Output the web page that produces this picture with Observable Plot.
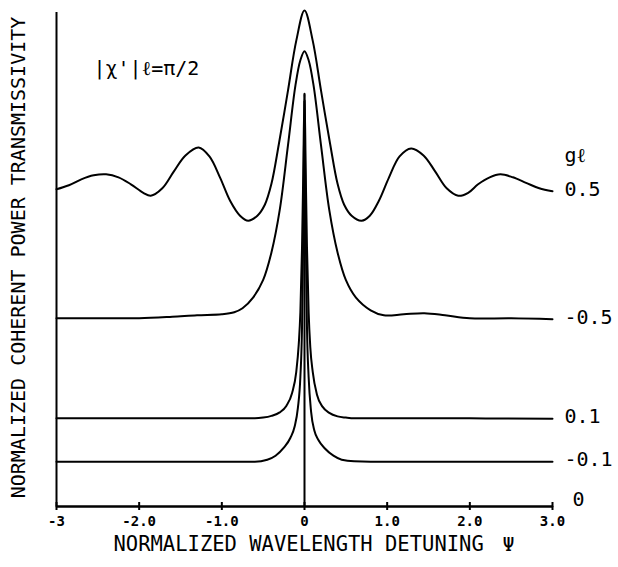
<!DOCTYPE html>
<html><head><meta charset="utf-8">
<script src="https://cdn.jsdelivr.net/npm/d3@7"></script>
<script src="https://cdn.jsdelivr.net/npm/@observablehq/plot@0.6"></script>
<style>body{margin:0;background:#fff}</style>
</head><body><div id="chart"></div><script>
// x-axis ticks
const xTicks = [-3, -2, -1, 0, 1, 2, 3];
const xTickLabels = ["-3", "-2.0", "-1.0", "0", "1.0", "2.0", "3.0"];

// gℓ = 0.5
const psiA = [-3.0,-2.85,-2.7,-2.55,-2.4,-2.25,-2.1,-1.95,-1.86,-1.72,-1.58,-1.44,-1.28,-1.15,-1.02,-0.9,-0.78,-0.68,-0.57,-0.48,-0.4,-0.31,-0.2,-0.1,0,
  0.1,0.2,0.31,0.4,0.48,0.57,0.69,0.79,0.9,1.02,1.15,1.29,1.44,1.58,1.72,1.86,1.98,2.1,2.24,2.37,2.52,2.68,2.84,3.0];
const tA = [63.7,64.5,65.7,66.5,66.7,66.1,64.7,63.0,62.4,63.9,67.3,70.5,72.1,70.3,66.0,61.4,58.4,57.4,58.4,60.6,64.8,72.8,83.5,93.5,99.6,
  93.5,83.5,72.8,64.8,60.6,58.4,57.4,58.4,61.4,66.0,70.3,71.9,70.5,67.3,63.9,62.4,63.0,64.7,66.1,66.7,66.1,65.0,63.9,63.3];

// gℓ = -0.5
const psiB = [-3.0,-2.5,-2.0,-1.6,-1.3,-1.0,-0.85,-0.75,-0.62,-0.5,-0.4,-0.3,-0.2,-0.11,-0.05,0,
  0.05,0.11,0.2,0.3,0.4,0.5,0.62,0.8,0.96,1.2,1.45,1.7,2.0,2.5,3.0];
const tB = [37.8,37.8,37.8,38.1,38.4,38.6,39.0,39.8,42.0,45.5,51.0,59.5,72.5,84.5,89.6,91.4,
  89.6,84.5,72.5,59.5,51.0,45.5,42.0,39.4,38.4,38.6,38.8,38.4,37.8,37.8,37.6];

// gℓ = 0.1
const psiC = [-3.0,-2.0,-1.0,-0.6,-0.5,-0.4,-0.3,-0.22,-0.15,-0.1,-0.07,-0.05,-0.03,-0.015,0,
  0.015,0.03,0.05,0.07,0.1,0.15,0.22,0.3,0.4,0.5,0.6,1.0,2.0,3.0];
const tC = [17.7,17.7,17.7,17.7,17.85,18.2,18.9,20.2,22.8,27.0,32.5,39.0,52.0,67.0,82.9,
  67.0,52.0,39.0,32.0,27.0,22.5,20.0,18.8,18.1,17.85,17.7,17.7,17.7,17.6];

// gℓ = -0.1
const psiD = [-3.0,-2.0,-1.0,-0.6,-0.45,-0.35,-0.25,-0.17,-0.12,-0.08,-0.05,-0.03,-0.015,0,
  0.015,0.03,0.05,0.08,0.12,0.17,0.25,0.35,0.45,0.6,1.0,2.0,3.0];
const tD = [9.0,9.0,9.0,9.0,9.4,10.2,11.8,13.8,16.0,19.8,26.0,36.0,55.0,81.5,
  55.0,36.0,26.0,19.0,15.2,13.3,11.6,10.2,9.4,9.1,9.0,9.0,9.0];

// gℓ = 0 (delta at ψ = 0)
const psiE = [-3.0, 0, 0, 0, 3.0];
const tE = [0, 0, 82.9, 0, 0];

const smooth = [
  {g: "0.5", psi: psiA, t: tA},
  {g: "-0.5", psi: psiB, t: tB}
];
const sharp = [
  {g: "0.1", psi: psiC, t: tC},
  {g: "-0.1", psi: psiD, t: tD}
];
const toRows = list => list.flatMap(s => s.psi.map((p, i) => ({g: s.g, psi: p, t: s.t[i]})));
const rowsSmooth = toRows(smooth);
const rowsSharp = toRows(sharp);
const rowsE = psiE.map((p, i) => ({g: "0", psi: p, t: tE[i]}));
const ends = [...smooth, ...sharp].map(s => ({g: s.g, psi: s.psi[s.psi.length - 1], t: s.t[s.t.length - 1]}));
const endZero = [{g: "0", psi: psiE[psiE.length - 1], t: tE[tE.length - 1]}];
const labelMap = new Map(xTicks.map((d, i) => [d, xTickLabels[i]]));

const chart = Plot.plot({
  width: 618, height: 567,
  marginLeft: 56, marginRight: 66, marginTop: 8, marginBottom: 61,
  x: {domain: [-3, 3]},
  y: {domain: [0, 100]},
  style: {fontFamily: "'DejaVu Sans Mono', monospace", color: "black", background: "white"},
  marks: [
    Plot.ruleY([0], {x1: -3, x2: 3, strokeWidth: 2}),
    Plot.ruleX([-3], {y1: 0, y2: 100, strokeWidth: 2, insetBottom: -4}),
    Plot.ruleX(xTicks, {x: d => d, y1: 0, y2: 0, insetTop: -4, insetBottom: -4, strokeWidth: 2}),
    Plot.axisX({ticks: xTicks, tickFormat: d => labelMap.get(d), tickSize: 0, tickPadding: 10,
      fontSize: 14, fontWeight: "bold", label: null}),
    Plot.axisY({ticks: [], label: null}),
    Plot.line(rowsSmooth, {x: "psi", y: "t", z: "g", curve: "catmull-rom", strokeWidth: 2, stroke: "black"}),
    Plot.line(rowsSharp, {x: "psi", y: "t", z: "g", curve: "monotone-x", strokeWidth: 2, stroke: "black"}),
    Plot.line(rowsE, {x: "psi", y: "t", curve: "linear", strokeWidth: 2, stroke: "black"}),
    Plot.text(ends, {x: "psi", y: "t", text: "g", dx: 12, dy: -2, textAnchor: "start", fontSize: 20}),
    Plot.text(endZero, {x: "psi", y: "t", text: "g", dx: 20, dy: -7, textAnchor: "start", fontSize: 20}),
    Plot.text(ends.filter(d => d.g === "0.5"), {x: "psi", y: "t", text: () => "gℓ", dx: 12, dy: -36,
      textAnchor: "start", fontSize: 20}),
    Plot.text(["|χ'|ℓ=π/2"], {frameAnchor: "top-left", dx: 37, dy: 52, textAnchor: "start", fontSize: 20}),
    Plot.text(["NORMALIZED WAVELENGTH DETUNING"], {frameAnchor: "bottom-left", dx: 57, dy: 44,
      textAnchor: "start", fontSize: 20.5}),
    Plot.text(["Ψ"], {frameAnchor: "bottom-right", dx: -38, dy: 44, fontSize: 20}),
    Plot.text(["NORMALIZED COHERENT POWER TRANSMISSIVITY"], {frameAnchor: "left", dx: -38, rotate: -90,
      textAnchor: "middle", fontSize: 20})
  ]
});
document.getElementById("chart").appendChild(chart);
</script></body></html>
